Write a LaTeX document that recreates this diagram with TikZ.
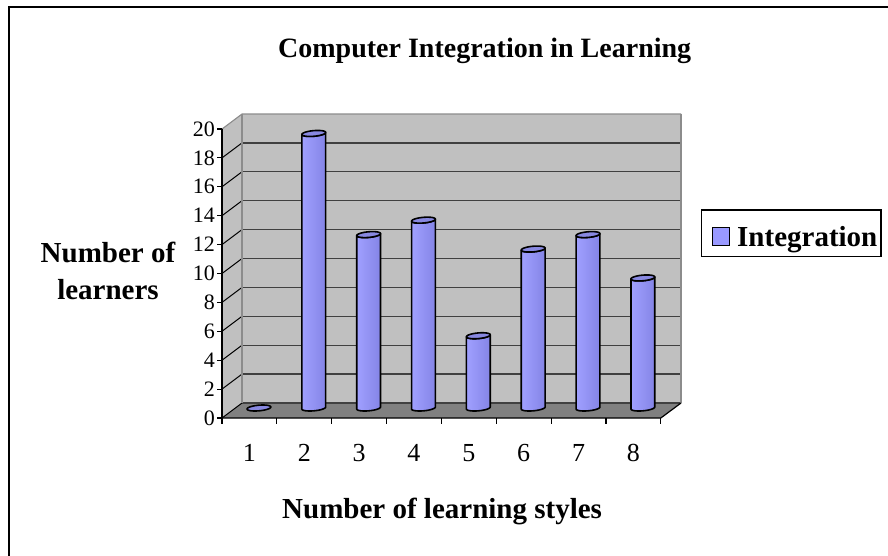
\documentclass[tikz,border=0pt]{standalone}
\usepackage{fontspec}
\setmainfont{Liberation Serif}
\definecolor{wallgray}{HTML}{C0C0C0}
\definecolor{floorgray}{HTML}{808080}
\definecolor{edgegray}{HTML}{8C8C8C}
\definecolor{gridcol}{HTML}{404040}
\definecolor{barL}{HTML}{A0A0FF}
\definecolor{barR}{HTML}{8484E6}
\definecolor{bartop}{HTML}{8888E0}
\definecolor{legfill}{HTML}{9999FF}
\tikzset{
  gridline/.style={draw=gridcol, line width=1.4pt},
  axisline/.style={draw=black, line width=1.2pt},
  barbody/.style={left color=barL, right color=barR},
  barline/.style={draw=black, line width=1.6pt, line join=round},
  ticklabel/.style={font=\fontsize{22}{24}\selectfont, inner sep=0pt},
  catlabel/.style={font=\fontsize{26}{30}\selectfont, inner sep=0pt},
  titletext/.style={font=\fontsize{29}{36}\selectfont\bfseries, inner sep=0pt},
}
% chart geometry (px units, y downwards)
\def\ax{222}      % front y-axis
\def\bx{242}      % back wall left edge
\def\rx{681}      % back wall right edge
\def\fy{418}      % front floor edge
\def\by{403}      % back floor edge
\def\unit{14.45}  % px per learner
\def\cw{54.85}    % category width
\def\ea{11.2}\def\eb{4}\def\ec{3}
\begin{document}
\begin{tikzpicture}[x=1pt,y=-1pt]
\useasboundingbox (0,0) rectangle (888,556);
\fill[white] (0,0) rectangle (888,556);
% outer frame
\draw[line width=2.2pt] (9.3,556) -- (9.3,7.2) -- (888,7.2);

% side wall and back wall
\fill[wallgray] (\ax,\fy) -- (\ax,{\fy-20*\unit}) -- (\bx,{\by-20*\unit}) -- (\bx,\by) -- cycle;
\fill[wallgray] (\bx,{\by-20*\unit}) rectangle (\rx,\by);
% floor
\fill[floorgray] (\ax,\fy) -- ({\ax+8*\cw},\fy) -- (\rx,\by) -- (\bx,\by) -- cycle;

% gridlines on back wall and side wall
\foreach \g in {0,2,...,18}{
  \draw[gridline] (\bx,{\by-\g*\unit}) -- (\rx,{\by-\g*\unit});
  \draw[black, line width=1pt] (\ax,{\fy-\g*\unit}) -- (\bx,{\by-\g*\unit});
}
\draw[edgegray, line width=1.1pt] (\ax,{\fy-20*\unit}) -- (\bx,{\by-20*\unit}) -- (\rx,{\by-20*\unit});
\draw[edgegray, line width=1.4pt] (\bx,{\by-20*\unit}) -- (\bx,\by);
\draw[edgegray, line width=1.4pt] (\rx,{\by-20*\unit}) -- (\rx,\by);

% value axis with ticks and labels
\draw[axisline] (\ax,{\fy-20*\unit}) -- (\ax,\fy);
\foreach \g in {0,2,...,20}{
  \draw[axisline] ({\ax-5},{\fy-\g*\unit}) -- (\ax,{\fy-\g*\unit});
  \node[ticklabel, anchor=east] (ylab\g) at ({\ax-7},{\fy-\g*\unit}) {\g};
}

% category axis with ticks and labels
\draw[axisline] (\ax,\fy) -- ({\ax+8*\cw},\fy) -- (\rx,\by);
\foreach \k in {0,...,8}{
  \draw[axisline] ({\ax+\k*\cw},\fy) -- ({\ax+\k*\cw},{\fy+6});
}
\foreach \k in {1,...,8}{
  \node[catlabel, anchor=base] (xlab\k) at ({\ax+(\k-0.5)*\cw},461) {\k};
}

% bars (oblique cylinders)
\foreach \i/\v in {1/0,2/19,3/12,4/13,5/5,6/11,7/12,8/9}{
  \pgfmathsetmacro\cx{\ax+(\i-0.5)*\cw+9.5}
  \pgfmathsetmacro\cb{408}
  \pgfmathsetmacro\ct{408-\v*\unit}
  \ifnum\v>0
    \path[barbody, barline]
      plot[domain=199.65:379.65, samples=30] ({\cx+\ea*cos(\x)+\eb*sin(\x)},{\cb-\ec*sin(\x)})
      -- plot[domain=379.65:199.65, samples=30] ({\cx+\ea*cos(\x)+\eb*sin(\x)},{\ct-\ec*sin(\x)})
      -- cycle;
  \fi
  \path[fill=bartop, barline]
    plot[domain=0:360, samples=40] ({\cx+\ea*cos(\x)+\eb*sin(\x)},{\ct-\ec*sin(\x)}) -- cycle;
}

% titles
\node[titletext, font=\fontsize{28}{34}\selectfont\bfseries, anchor=base west] (title) at (278,58) {Computer Integration in Learning};
\node[titletext, anchor=base] (ytitle1) at (108,262) {Number of};
\node[titletext, anchor=base] (ytitle2) at (108,299) {learners};
\node[titletext, anchor=base west] (xtitle) at (282,518) {Number of learning styles};

% legend
\draw[line width=1.2pt, fill=white] (701.7,210) rectangle (881,256.7);
\draw[line width=1pt, fill=legfill] (712.7,227.5) rectangle (729.3,245);
\node[titletext, anchor=base west] (legtext) at (737,246.5) {Integration};
\end{tikzpicture}
\end{document}
